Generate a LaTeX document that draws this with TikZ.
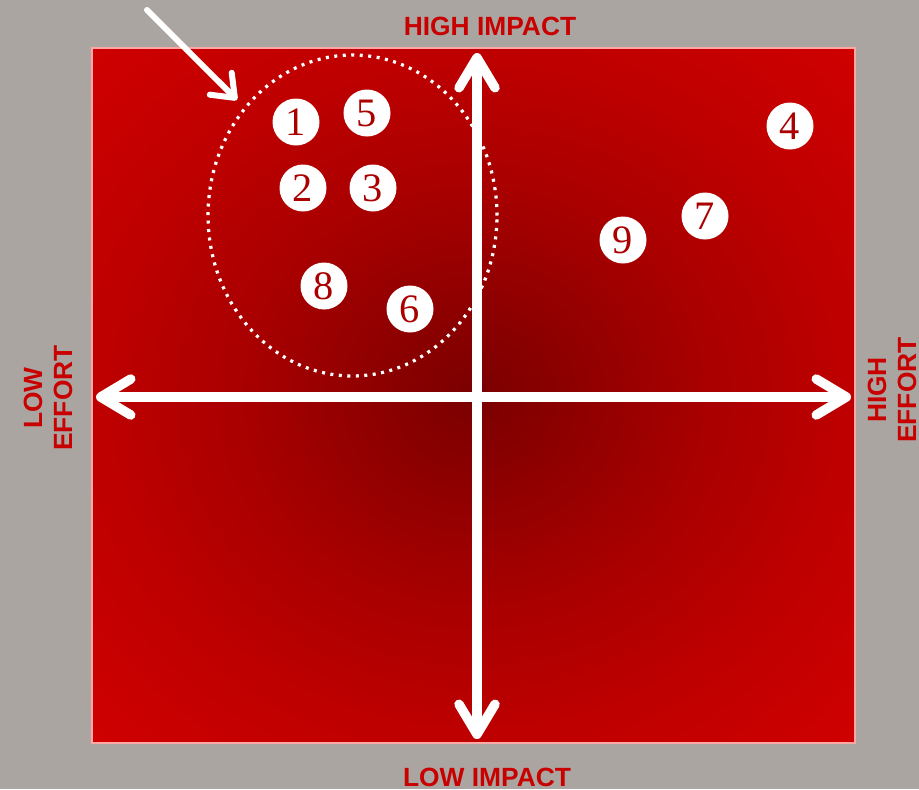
\documentclass[tikz,border=0pt]{standalone}
\usepackage{fontspec}
\usepackage{xcolor}
\usepackage{tikz}
\usetikzlibrary{positioning,arrows.meta,calc,shapes.geometric}
\newfontfamily\labelfont{Liberation Sans}
\newfontfamily\digitfont{Liberation Serif}
\definecolor{boardgray}{RGB}{170,165,161}
\definecolor{labelred}{RGB}{200,0,0}
\definecolor{digitred}{RGB}{170,0,0}
\pgfdeclareradialshading{quadglow}{\pgfpoint{0bp}{0bp}}{rgb(0bp)=(0.48,0,0); rgb(6bp)=(0.55,0,0); rgb(15bp)=(0.66,0,0); rgb(25bp)=(0.75,0,0); rgb(35bp)=(0.81,0,0); rgb(50bp)=(0.81,0,0)}

\begin{document}
\begin{tikzpicture}[x=0.02cm, y=-0.02cm,
    axis/.style={white, line width=0.19cm, line cap=round,
      {Straight Barb[length=0.6cm, width=0.72cm, line cap=round, line join=round]}-{Straight Barb[length=0.6cm, width=0.72cm, line cap=round, line join=round]}},
    numdot/.style={circle, fill=white, text=digitred, minimum size=0.94cm, inner sep=0, font=\digitfont\fontsize{23}{23}\selectfont},
    axislabel/.style={text=labelred, font=\labelfont\bfseries\fontsize{15}{17}\selectfont, align=center}]
    \useasboundingbox (0,0) rectangle (919,789);
    \fill[boardgray] (0,0) rectangle (919,789);
    % the board
    \coordinate (nw) at (92,48);
    \coordinate (se) at (855,743);
    \shade[shading=quadglow] (nw) rectangle (se);
    \draw[red!35!white, line width=0.03cm] (nw) rectangle (se);
    % axes
    \coordinate (west) at (96,397);
    \coordinate (east) at (851,397);
    \coordinate (north) at (477,53);
    \coordinate (south) at (477,739);
    \draw[axis] (west) -- (east);
    \draw[axis] (south) -- (north);
    \node[axislabel] (himpact) at (490,26) {HIGH IMPACT};
    \node[axislabel] (limpact) at (487,777) {LOW IMPACT};
    \node[axislabel, rotate=90] (leffort) at (48,398) {LOW\\EFFORT};
    \node[axislabel, rotate=90] (heffort) at (892,390) {HIGH\\EFFORT};
    % quick wins
    \node[draw=white, dash pattern=on 0.06cm off 0.11cm, line width=0.065cm, ellipse, minimum width=5.78cm, minimum height=6.42cm, inner sep=0] (wins) at (352.5,215.5) {};
    \coordinate (pointer) at (147,10);
    \draw[white, line width=0.12cm, line cap=round, -{Straight Barb[length=0.4cm, width=0.62cm, line cap=round, line join=round]}] (pointer) -- ([shift={(-7,-7)}]wins.135);
    \foreach \n/\x/\y in {1/296/122, 5/367/113, 2/303/188, 3/373/188, 8/324/286, 6/410/309, 9/623/240, 7/705/216, 4/790/126}
      \node[numdot] (d\n) at (\x,\y) {\n};
  \end{tikzpicture}
\end{document}
